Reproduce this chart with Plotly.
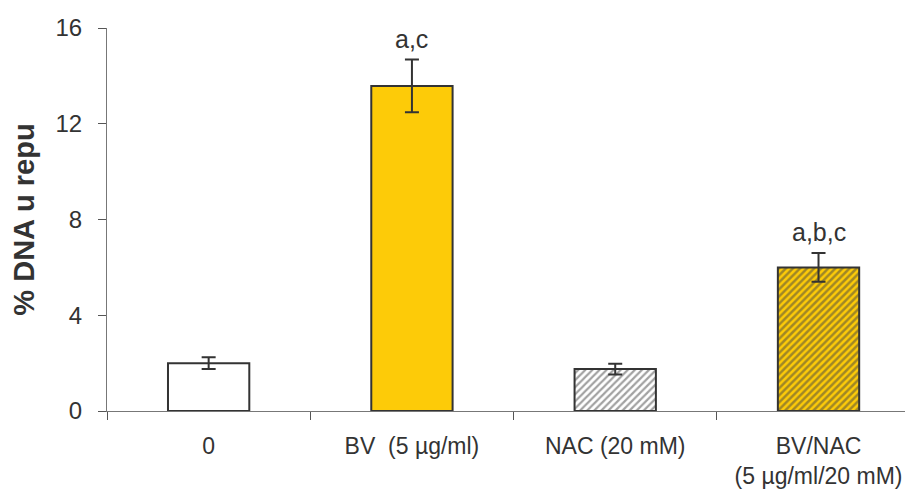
import plotly.graph_objects as go

categories = ["0", "BV\u00a0 (5 µg/ml)", "NAC (20 mM)", "BV/NAC<br>(5 µg/ml/20 mM)"]
values = [2.0, 13.58, 1.75, 6.0]
errors = [0.25, 1.1, 0.22, 0.6]
letters = ["", "a,c", "", "a,b,c"]

yellow = "#FDCB08"
dark = "#333333"

fills = ["white", yellow, "white", yellow]
shapes = ["", "", "/", "/"]
stripe = ["#333333", "#333333", "#444444", "#333333"]

fig = go.Figure()
fig.add_trace(go.Bar(
    x=categories,
    y=values,
    width=0.4,
    marker=dict(
        color=fills,
        line=dict(color=dark, width=2),
        pattern=dict(shape=shapes, fgcolor=stripe, bgcolor=fills,
                     size=5, solidity=[0.45, 0.45, 0.45, 0.5], fillmode="overlay"),
    ),
    error_y=dict(type="data", array=errors, color=dark, thickness=2, width=7),
    showlegend=False,
))

for cat, v, e, txt in zip(categories, values, errors, letters):
    if txt:
        fig.add_annotation(x=cat, y=v + e, text=txt, showarrow=False,
                           yanchor="bottom", yshift=5,
                           font=dict(size=25, color=dark))

# page has an 8px body margin, so the plot area is offset by it
fig.update_layout(
    width=913, height=498,
    margin=dict(l=99, r=11, t=20, b=95),
    paper_bgcolor="white", plot_bgcolor="white",
    font=dict(family="Liberation Sans, Arial, sans-serif", size=23, color=dark),
    xaxis=dict(
        range=[-0.5, 3.45], showline=True, linecolor="#777777", linewidth=1,
        ticks="outside", tickson="boundaries", ticklen=8, tickcolor="#555555",
        showgrid=False, tickfont=dict(size=23), automargin=False,
        ticklabelstandoff=14,
    ),
    yaxis=dict(
        range=[0, 16], tickvals=[0, 4, 8, 12, 16], showline=True,
        linecolor="#777777", linewidth=1, ticks="outside", ticklen=8,
        tickcolor="#555555", showgrid=False, zeroline=False,
        tickfont=dict(size=24), automargin=False, ticklabelstandoff=11,
        title=dict(text="<b>% DNA u repu</b>", font=dict(size=29), standoff=16),
    ),
)

fig.write_html("out.html")
